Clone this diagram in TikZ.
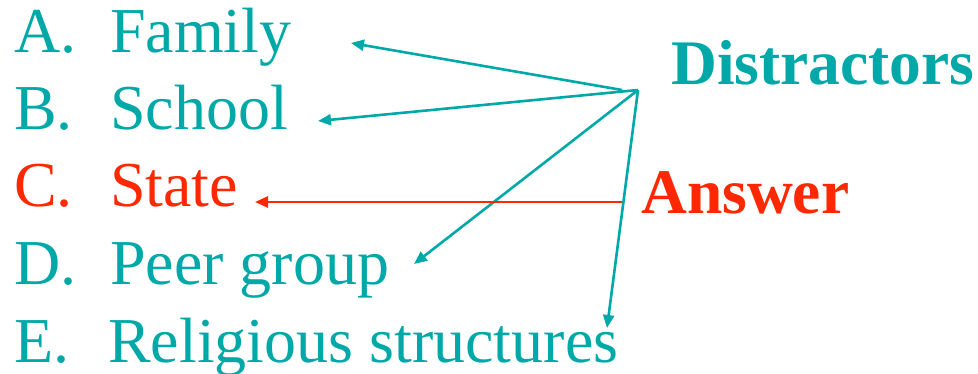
\documentclass[tikz,border=0pt]{standalone}
\usepackage{fontspec}
\setmainfont{Liberation Serif}
\usetikzlibrary{arrows.meta}
\definecolor{teal1}{RGB}{0,168,168}
\definecolor{red1}{RGB}{255,40,0}
\begin{document}
\begin{tikzpicture}[x=1pt,y=-1pt,
  item/.style={inner sep=0pt,anchor=base west,font=\fontsize{64}{77}\selectfont},
  head/.style={inner sep=0pt,anchor=base west,font=\fontsize{63.5}{76}\selectfont\bfseries},
  conn/.style={line width=2.6pt,-{Triangle[length=13pt,width=11pt]}}]
\useasboundingbox (0,0) rectangle (978,374);
% letters
\node[item,text=teal1] (la) at (14,53) {A.};
\node[item,text=teal1] (lb) at (14,130) {B.};
\node[item,text=red1]  (lc) at (14,207) {C.};
\node[item,text=teal1] (ld) at (14,285) {D.};
\node[item,text=teal1] (le) at (14,362) {E.};
% options
\node[item,text=teal1] (ta) at (110,53) {Family};
\node[item,text=teal1] (tb) at (110,130) {School};
\node[item,text=red1]  (tc) at (110,207) {State};
\node[item,text=teal1] (td) at (110,285) {Peer group};
\node[item,text=teal1] (te) at (108,362) {Religious structures};
% headings
\node[head,text=teal1] (dis) at (671,85) {Distractors};
\node[head,text=red1]  (ans) at (641,214) {Answer};
% connector ends
\coordinate (hub) at (638,90);
\coordinate (hubf) at (622,90);
\coordinate (ansst) at (622,202);
\coordinate (pa) at (351,43);
\coordinate (pb) at (318,121);
\coordinate (pc) at (255,202);
\coordinate (pd) at (414,264);
\coordinate (pe) at (607,328);
\draw[conn,teal1] (hubf) -- (pa);
\draw[conn,teal1] (hub) -- (pb);
\draw[conn,teal1] (hub) -- (pd);
\draw[conn,teal1] (hub) -- (pe);
\draw[conn,red1] (ansst) -- (pc);
\end{tikzpicture}
\end{document}
